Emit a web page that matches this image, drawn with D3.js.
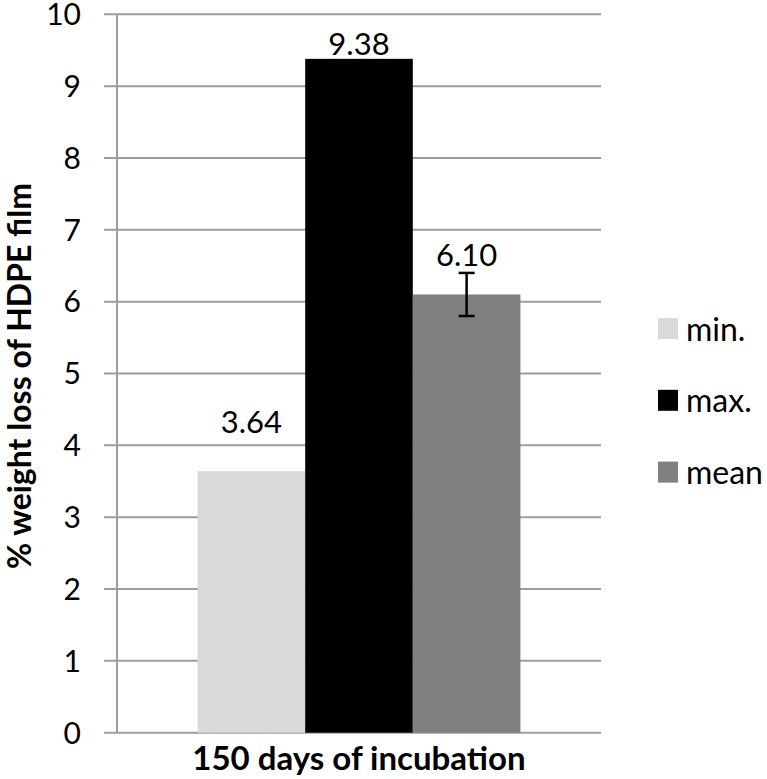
<!DOCTYPE html>
<html><head><meta charset="utf-8">
<script src="https://cdn.jsdelivr.net/npm/d3@7"></script>
<style>body{margin:0;background:#fff}svg{display:block}</style>
</head><body>
<script>
const categories = ["150 days of incubation"];
const seriesNames = ["min.", "max.", "mean"];
const seriesValues = [3.64, 9.38, 6.10];
const seriesErrors = [null, null, 0.3];
const valueLabels = ["3.64", "9.38", "6.10"];
const seriesColors = ["#d9d9d9", "#000000", "#808080"];
const yTicks = [0,1,2,3,4,5,6,7,8,9,10];

(function(){
const W = 767, H = 779;
const svg = d3.select("body").append("svg").attr("width", W).attr("height", H);
const font = "Lato, 'Open Sans', sans-serif";

const pl = 117, pr = 601, pt = 14.3, pb = 732.7;
const y = d3.scaleLinear().domain([0, 10]).range([pb, pt]);
const x0 = d3.scaleBand().domain(categories).range([pl, pr]).paddingInner(0).paddingOuter(0);
const x1 = d3.scaleBand().domain(seriesNames).range([x0.bandwidth()*0.1665, x0.bandwidth()*(1-0.1665)]).padding(0);

svg.append("g").selectAll("line").data(yTicks).join("line")
  .attr("x1", pl - 13).attr("x2", pr)
  .attr("y1", d => y(d)).attr("y2", d => y(d))
  .attr("stroke", "#9d9d9d").attr("stroke-width", 2);
svg.append("line").attr("x1", pl).attr("x2", pl).attr("y1", pt).attr("y2", pb)
  .attr("stroke", "#9d9d9d").attr("stroke-width", 2);

svg.append("g").selectAll("text").data(yTicks).join("text")
  .attr("x", 81).attr("y", d => y(d)).attr("dy", "0.36em")
  .attr("text-anchor", "end").attr("font-family", font).attr("font-size", 30)
  .text(d => d);

const data = seriesNames.map((s, i) => ({s, v: seriesValues[i], e: seriesErrors[i], lab: valueLabels[i], c: seriesColors[i]}));
const g = svg.append("g").attr("transform", `translate(${x0(categories[0])},0)`);
g.selectAll("rect").data(data).join("rect")
  .attr("x", d => x1(d.s)).attr("width", x1.bandwidth())
  .attr("y", d => y(d.v)).attr("height", d => y(0) - y(d.v))
  .attr("fill", d => d.c);

const eb = g.selectAll("g.err").data(data.filter(d => d.e != null)).join("g").attr("class", "err");
eb.append("line").attr("x1", d => x1(d.s) + x1.bandwidth()/2).attr("x2", d => x1(d.s) + x1.bandwidth()/2)
  .attr("y1", d => y(d.v + d.e)).attr("y2", d => y(d.v - d.e)).attr("stroke", "#000").attr("stroke-width", 2.5);
eb.selectAll("line.cap").data(d => [[d, d.v + d.e], [d, d.v - d.e]]).join("line").attr("class", "cap")
  .attr("x1", d => x1(d[0].s) + x1.bandwidth()/2 - 8).attr("x2", d => x1(d[0].s) + x1.bandwidth()/2 + 8)
  .attr("y1", d => y(d[1])).attr("y2", d => y(d[1])).attr("stroke", "#000").attr("stroke-width", 2.5);

const labelGap = {"min.": 38, "max.": 4, "mean": 28};
g.selectAll("text.val").data(data).join("text").attr("class", "val")
  .attr("x", d => x1(d.s) + x1.bandwidth()/2)
  .attr("y", d => y(d.v) - labelGap[d.s])
  .attr("text-anchor", "middle").attr("font-family", font).attr("font-size", 31)
  .text(d => d.lab);

svg.append("text").attr("x", x0(categories[0]) + x0.bandwidth()/2).attr("y", 770)
  .attr("text-anchor", "middle").attr("font-family", font).attr("font-weight", "bold").attr("font-size", 33)
  .text(categories[0]);

svg.append("text").attr("transform", `translate(31,376) rotate(-90)`)
  .attr("text-anchor", "middle").attr("font-family", font).attr("font-weight", "bold").attr("font-size", 32)
  .text("% weight loss of HDPE film");

const lg = svg.append("g").selectAll("g").data(data).join("g")
  .attr("transform", (d, i) => `translate(658,${329 + i*71.8})`);
lg.append("rect").attr("x", 0).attr("y", -11).attr("width", 20).attr("height", 21).attr("fill", d => d.c);
lg.append("text").attr("x", 28).attr("y", 0).attr("dy", "0.36em")
  .attr("font-family", font).attr("font-size", 32).text(d => d.s);
})();
</script>
</body></html>
